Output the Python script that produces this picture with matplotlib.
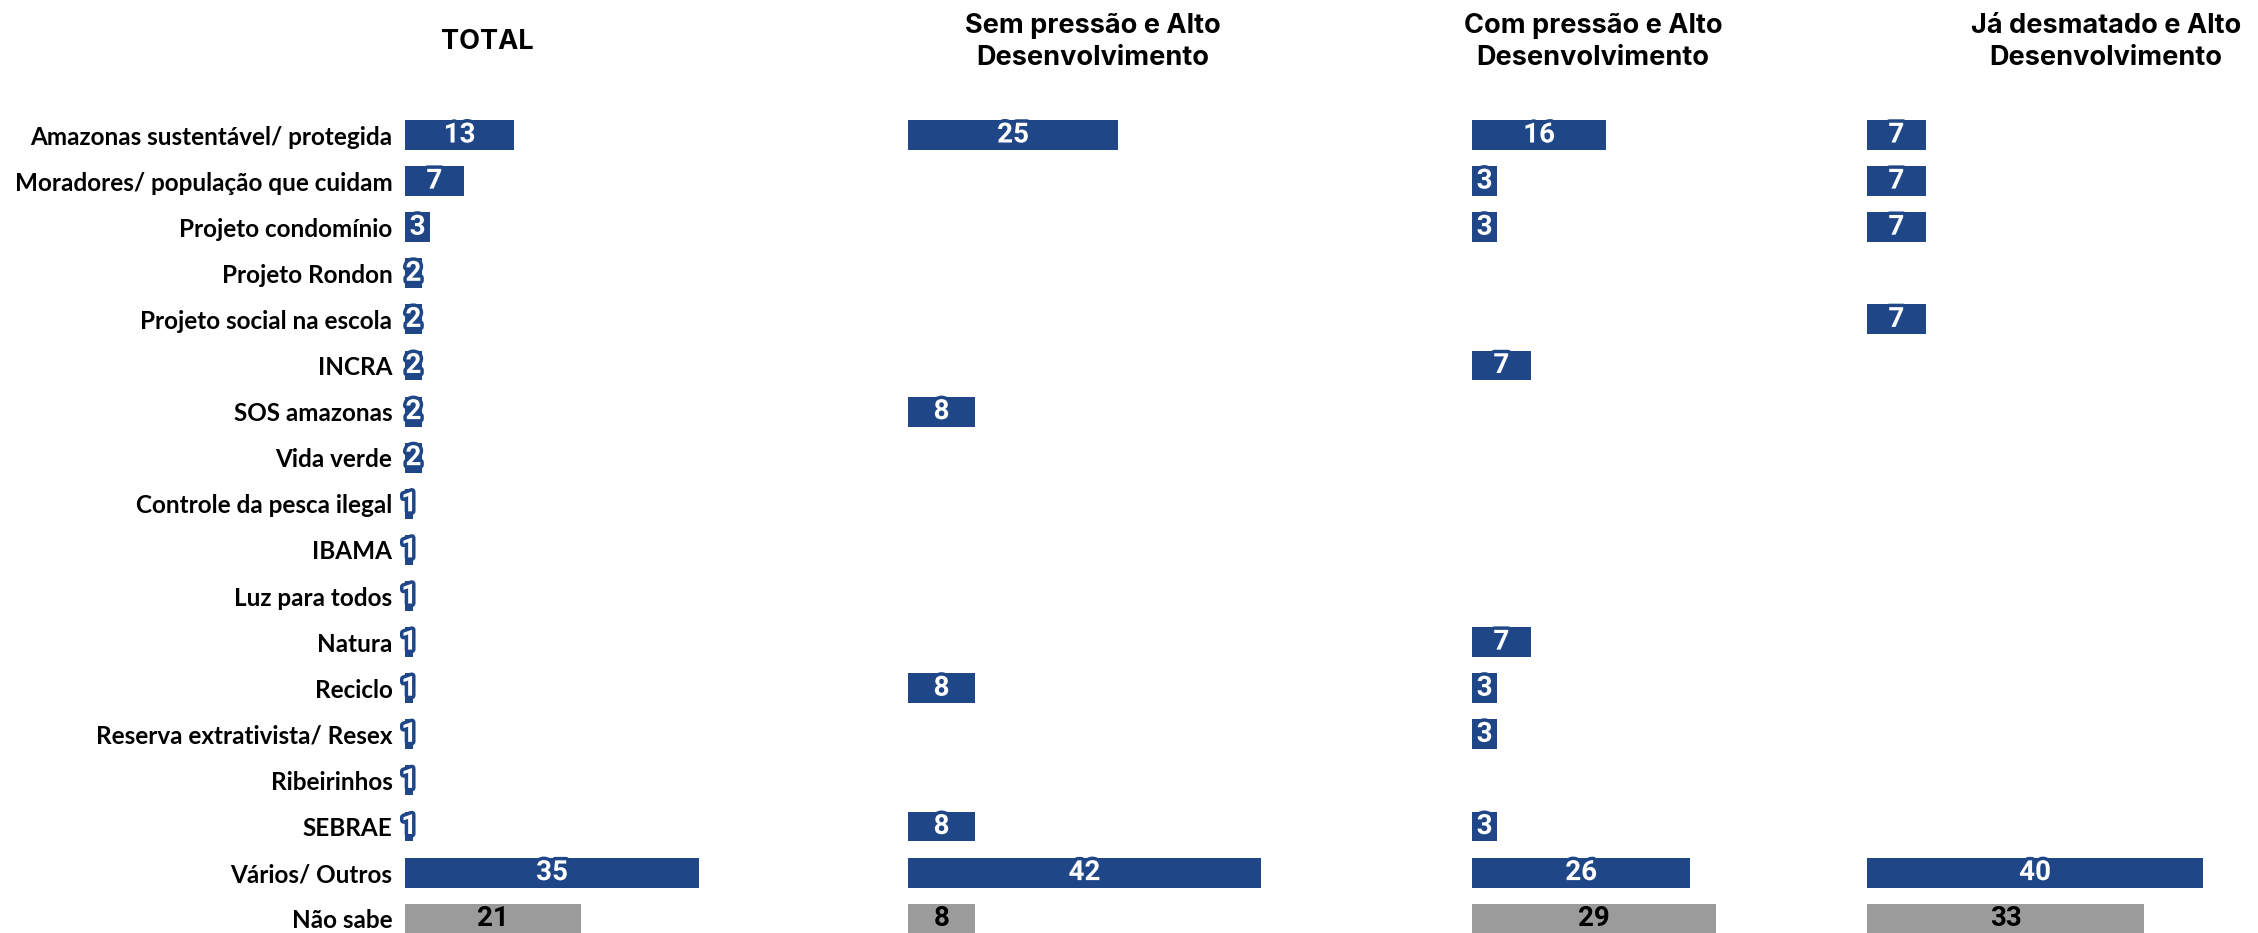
import matplotlib
matplotlib.use("Agg")
import matplotlib.pyplot as plt
import matplotlib.patheffects as pe
import numpy as np

categories = [
    "Amazonas sustentável/ protegida",
    "Moradores/ população que cuidam",
    "Projeto condomínio",
    "Projeto Rondon",
    "Projeto social na escola",
    "INCRA",
    "SOS amazonas",
    "Vida verde",
    "Controle da pesca ilegal",
    "IBAMA",
    "Luz para todos",
    "Natura",
    "Reciclo",
    "Reserva extrativista/ Resex",
    "Ribeirinhos",
    "SEBRAE",
    "Vários/ Outros",
    "Não sabe",
]

panel_titles = [
    "TOTAL",
    "Sem pressão e Alto\nDesenvolvimento",
    "Com pressão e Alto\nDesenvolvimento",
    "Já desmatado e Alto\nDesenvolvimento",
]

# None = no answer in that segment
total = [13, 7, 3, 2, 2, 2, 2, 2, 1, 1, 1, 1, 1, 1, 1, 1, 35, 21]
sem_pressao = [25, None, None, None, None, None, 8, None, None, None, None, None, 8, None, None, 8, 42, 8]
com_pressao = [16, 3, 3, None, None, 7, None, None, None, None, None, 7, 3, 3, None, 3, 26, 29]
ja_desmatado = [7, 7, 7, None, 7, None, None, None, None, None, None, None, None, None, None, None, 40, 33]

series = [total, sem_pressao, com_pressao, ja_desmatado]

BLUE = "#1F4788"
GRAY = "#9B9B9B"

W, H = 2258, 933
fig = plt.figure(figsize=(W / 100, H / 100), dpi=100)

x_starts = [405 / W, 908 / W, 1472 / W, 1867 / W]
unit = 8.4 / W
xmax = 45
title_x = [487 / W, 1093 / W, 1593 / W, 2106 / W]

row0 = 135 / H
step = 46.1 / H
ax_bottom, ax_top = 0.0, 0.9
y_at_bottom = (1 - row0 - ax_bottom) / step
y_at_top = (1 - row0 - ax_top) / step

n = len(categories)
ypos = np.arange(n)

for p, (vals, x0) in enumerate(zip(series, x_starts)):
    ax = fig.add_axes([x0, ax_bottom, unit * xmax, ax_top - ax_bottom])
    ax.set_xlim(0, xmax)
    ax.set_ylim(y_at_bottom, y_at_top)
    for i, v in enumerate(vals):
        if v is None:
            continue
        gray = categories[i] == "Não sabe"
        col = GRAY if gray else BLUE
        ax.barh(i, v, height=0.65, color=col, left=0)
        tcol = "black" if gray else "white"
        t = ax.text(v / 2, i, str(v), ha="center", va="center",
                    color=tcol, fontsize=20, fontweight="bold",
                    family=["Roboto", "DejaVu Sans"])
        if not gray:
            t.set_path_effects([pe.withStroke(linewidth=5, foreground=col)])
    for s in ax.spines.values():
        s.set_visible(False)
    ax.set_xticks([])
    if p == 0:
        ax.set_yticks(ypos)
        ax.set_yticklabels(categories, fontsize=17.5, fontweight="bold",
                           family=["Lato", "DejaVu Sans"])
        ax.tick_params(axis="y", length=0, pad=9)
    else:
        ax.set_yticks([])
    ax.patch.set_alpha(0)

for p, (tx, title) in enumerate(zip(title_x, panel_titles)):
    fig.text(tx, 0.955, title, ha="center", va="center", fontsize=19.5,
             fontweight="bold", family=["Inter", "DejaVu Sans"],
             linespacing=1.3)

fig.savefig("out.png", dpi=100)
